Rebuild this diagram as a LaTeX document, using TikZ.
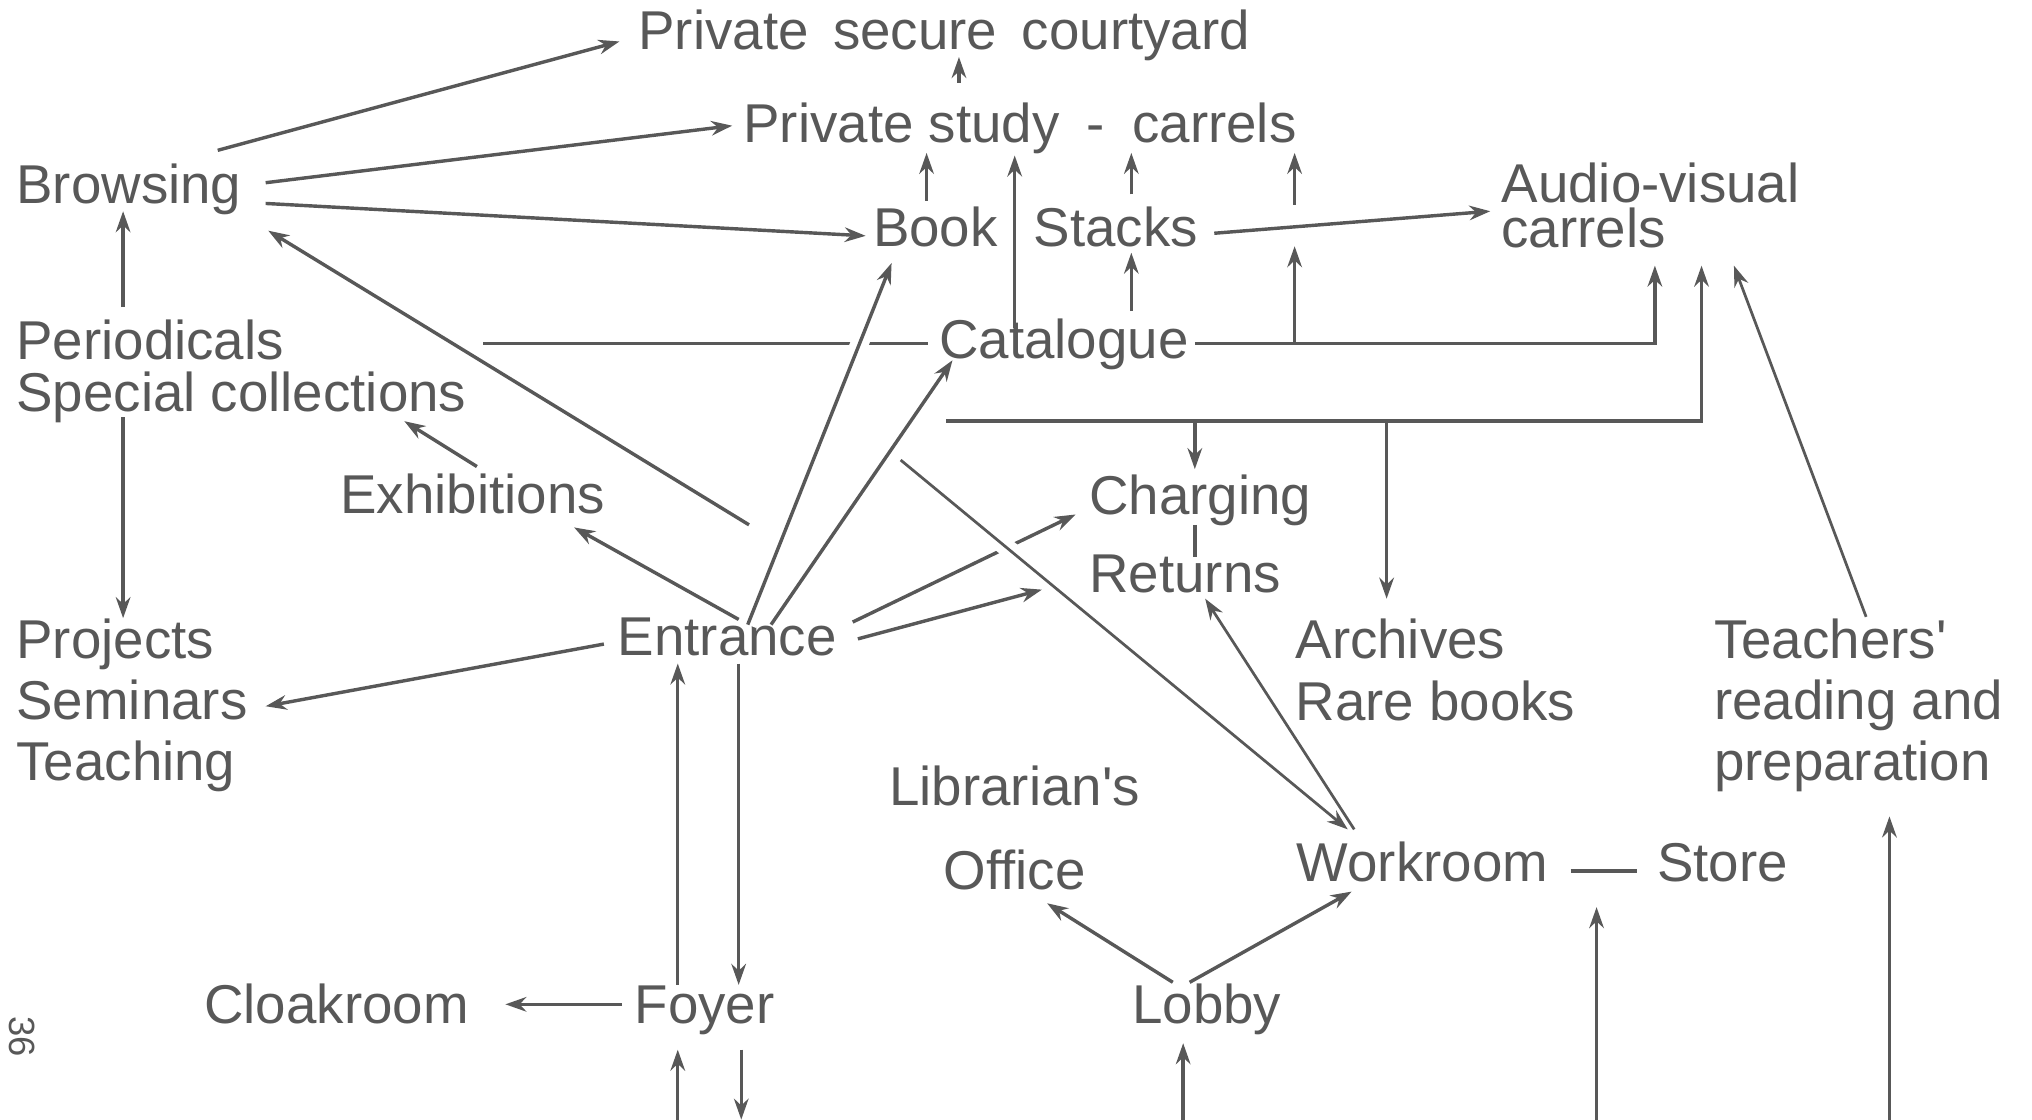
\documentclass[tikz,border=0pt]{standalone}
\usepackage{fontspec}
\setmainfont{Liberation Sans}
\usetikzlibrary{arrows.meta}
\definecolor{ink}{RGB}{88,88,88}
\tikzset{
  lbl/.style={inner sep=0pt, text=ink, font=\fontsize{12}{15}\selectfont},
  arr/.style={draw=ink, line width=0.75pt, -{Stealth[length=4.6pt,width=3.2pt]}},
  ln/.style={draw=ink, line width=0.75pt},
  gap/.style={preaction={draw=white, line width=4pt}},
}
\begin{document}
\begin{tikzpicture}[x=0.01cm,y=-0.01cm]
\useasboundingbox (0,0) rectangle (1568,864);
% ---- nodes
\node[lbl, anchor=base west] (psc) at (492,38) {Private\hspace{0.45em}secure\hspace{0.45em}courtyard};
\node[lbl, anchor=base west] (pst) at (573,110) {Private study\hspace{0.5em}-\hspace{0.5em}carrels};
\node[lbl, anchor=base west] (brow) at (12,157) {Browsing};
\node[lbl, anchor=base west] (book) at (673,190) {Book};
\node[lbl, anchor=base west] (stacks) at (797,190) {Stacks};
\node[lbl, anchor=base west] (av) at (1158,156) {Audio-visual};
\node[lbl, anchor=base west] (avc) at (1158,191) {carrels};
\node[lbl, anchor=base west] (cat) at (724,277) {Catalogue};
\node[lbl, anchor=north west, align=left, font=\fontsize{12}{11.4}\selectfont] (per) at (12,246) {Periodicals\\Special collections};
\node[lbl, anchor=base west] (exh) at (262,396) {Exhibitions};
\node[lbl, anchor=base west] (chg) at (840,397) {Charging};
\node[lbl, anchor=base west] (ret) at (840,457) {Returns};
\node[lbl, anchor=base west] (ent) at (476,506) {Entrance};
\node[lbl, anchor=north west, align=left, font=\fontsize{12}{13.4}\selectfont] (proj) at (12,477) {Projects\\Seminars\\Teaching};
\node[lbl, anchor=north west, align=left, font=\fontsize{12}{13.6}\selectfont] (arch) at (999,477) {Archives\\Rare books};
\node[lbl, anchor=north west, align=left, font=\fontsize{12}{13.4}\selectfont] (teach) at (1322,477) {Teachers\textquotesingle\\reading and\\preparation};
\node[lbl, anchor=north, align=center, font=\fontsize{12}{18.5}\selectfont] (office) at (783,590) {Librarian\textquotesingle s\\Office};
\node[lbl, anchor=base west] (work) at (1000,680) {Workroom};
\node[lbl, anchor=base west] (store) at (1278,680) {Store};
\node[lbl, anchor=base west] (cloak) at (157,790) {Cloakroom};
\node[lbl, anchor=base west] (foyer) at (489,790) {Foyer};
\node[lbl, anchor=base west] (lobby) at (873,790) {Lobby};
\node[inner sep=0pt, text=ink, font=\fontsize{8}{9}\selectfont, rotate=-90] (pageno) at (17,800) {36};
% ---- connector end points
\coordinate (bA) at (168,116); \coordinate (pscW) at (478,32);
\coordinate (bB) at (205,141); \coordinate (pstW) at (565,97);
\coordinate (bC) at (205,157); \coordinate (bookW) at (668,182);
\coordinate (pstT) at (740,64); \coordinate (pscB) at (740,44);
\coordinate (bookT) at (715,155); \coordinate (pstB1) at (715,118);
\coordinate (catT) at (783,253); \coordinate (pstB2) at (783,120);
\coordinate (stT) at (873,150); \coordinate (pstB3) at (873,118);
\coordinate (avlT) at (999,158); \coordinate (pstB4) at (999,118);
\coordinate (catT2) at (873,240); \coordinate (stB) at (873,195);
\coordinate (stE) at (937,180); \coordinate (avW) at (1150,163);
\coordinate (hL) at (373,265); \coordinate (catW) at (716,265);
\coordinate (catE) at (922,265); \coordinate (catK) at (1277,265); \coordinate (avB1) at (1277,205);
\coordinate (catJ) at (999,265); \coordinate (avl) at (999,190);
\coordinate (brL) at (730,325); \coordinate (brK) at (1313,325); \coordinate (avB2) at (1313,205);
\coordinate (brC) at (922,325); \coordinate (chgT) at (922,362);
\coordinate (brA) at (1070,325); \coordinate (archT) at (1070,462);
\coordinate (teachT) at (1440,476); \coordinate (avB3) at (1338,205);
\coordinate (perT) at (95,237); \coordinate (browB) at (95,163);
\coordinate (perB) at (95,322); \coordinate (projT) at (95,477);
\coordinate (exhT) at (368,360); \coordinate (perE) at (312,325);
\coordinate (entA) at (578,405); \coordinate (browE) at (207,178);
\coordinate (entB) at (570,478); \coordinate (exhE) at (443,407);
\coordinate (entC) at (577,482); \coordinate (bookB) at (688,203);
\coordinate (entD) at (595,482); \coordinate (catB) at (735,278);
\coordinate (entE) at (658,480); \coordinate (chgW) at (830,397);
\coordinate (entF) at (662,493); \coordinate (retW) at (804,455);
\coordinate (entG) at (466,497); \coordinate (semE) at (205,545);
\coordinate (foyT1) at (523,760); \coordinate (entB1) at (523,512);
\coordinate (entB2) at (570,512); \coordinate (foyT2) at (570,760);
\coordinate (foyW) at (480,775); \coordinate (cloakE) at (390,775);
\coordinate (in1) at (523,864); \coordinate (foyB1) at (523,810);
\coordinate (foyB2) at (572,810); \coordinate (out1) at (572,864);
\coordinate (in2) at (913,864); \coordinate (lobB) at (913,805);
\coordinate (lobL) at (905,758); \coordinate (offB) at (808,697);
\coordinate (lobR) at (918,758); \coordinate (workB) at (1043,688);
\coordinate (workE) at (1212,672); \coordinate (storeW) at (1263,672);
\coordinate (in3) at (1232,864); \coordinate (up3) at (1232,700);
\coordinate (in4) at (1458,864); \coordinate (teachB) at (1458,630);
\coordinate (workT) at (1045,640); \coordinate (retB) at (930,462);
\coordinate (diagA) at (695,355); \coordinate (workT2) at (1040,640);
\coordinate (chgB) at (922,405); \coordinate (retT) at (922,430);
% ---- connectors
\draw[arr] (bA) -- (pscW);
\draw[arr] (bB) -- (pstW);
\draw[arr] (bC) -- (bookW);
\draw[arr] (pstT) -- (pscB);
\draw[arr] (bookT) -- (pstB1);
\draw[arr] (catT) -- (pstB2);
\draw[arr] (stT) -- (pstB3);
\draw[arr] (avlT) -- (pstB4);
\draw[arr] (catT2) -- (stB);
\draw[arr] (stE) -- (avW);
\draw[ln] (hL) -- (catW);
\draw[arr] (catE) -- (catK) -- (avB1);
\draw[arr] (catJ) -- (avl);
\draw[arr] (brL) -- (brK) -- (avB2);
\draw[arr] (brC) -- (chgT);
\draw[arr] (brA) -- (archT);
\draw[arr, line width=0.6pt] (teachT) -- (avB3);
\draw[arr] (perT) -- (browB);
\draw[arr] (perB) -- (projT);
\draw[arr] (exhT) -- (perE);
\draw[arr] (entA) -- (browE);
\draw[arr] (entB) -- (exhE);
\draw[arr, gap] (entC) -- (bookB);
\draw[arr] (entD) -- (catB);
\draw[arr] (entE) -- (chgW);
\draw[arr] (entF) -- (retW);
\draw[arr] (entG) -- (semE);
\draw[arr] (foyT1) -- (entB1);
\draw[arr] (entB2) -- (foyT2);
\draw[arr] (foyW) -- (cloakE);
\draw[arr] (in1) -- (foyB1);
\draw[arr] (foyB2) -- (out1);
\draw[arr] (in2) -- (lobB);
\draw[arr] (lobL) -- (offB);
\draw[arr] (lobR) -- (workB);
\draw[ln] (workE) -- (storeW);
\draw[arr] (in3) -- (up3);
\draw[arr] (in4) -- (teachB);
\draw[arr, gap, line width=0.6pt] (diagA) -- (workT2);
\draw[arr, line width=0.6pt] (workT) -- (retB);
\draw[ln] (chgB) -- (retT);
\end{tikzpicture}
\end{document}
